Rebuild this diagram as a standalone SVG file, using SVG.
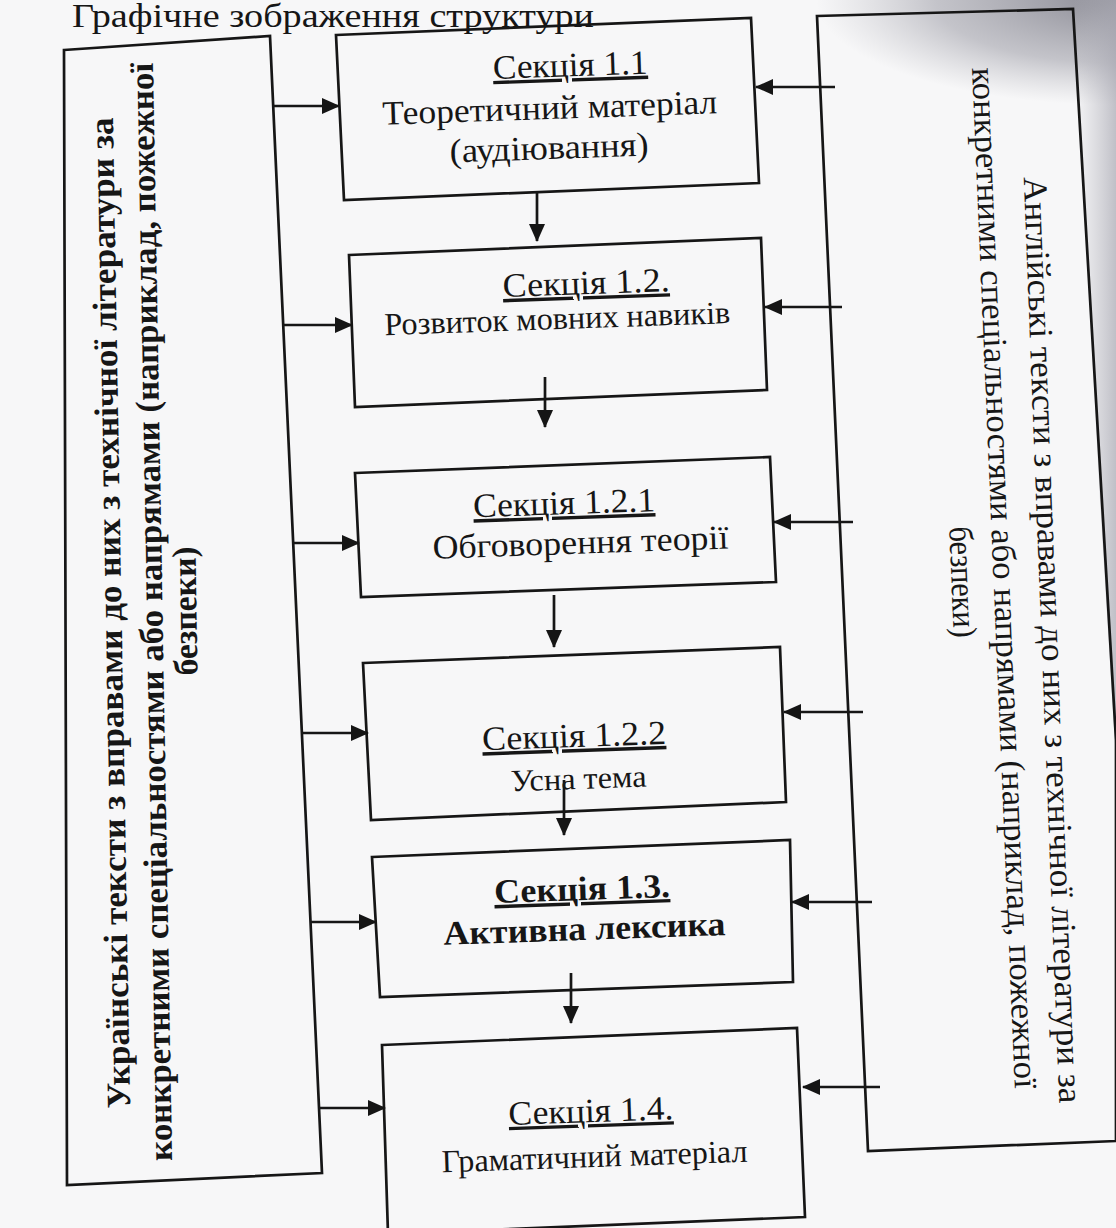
<svg xmlns="http://www.w3.org/2000/svg" width="1116" height="1228" viewBox="0 0 1116 1228">
<defs>
  <marker id="ah" markerUnits="userSpaceOnUse" markerWidth="18" markerHeight="16" refX="17" refY="8" orient="auto">
    <path d="M0,0 L18,8 L0,16 z" fill="#151515"/>
  </marker>
  <radialGradient id="cornerShade" cx="1116" cy="0" r="300" gradientUnits="userSpaceOnUse" gradientTransform="translate(1116 0) scale(1 0.35) translate(-1116 0)">
    <stop offset="0" stop-color="#85858f" stop-opacity="0.95"/>
    <stop offset="0.6" stop-color="#9a9aa4" stop-opacity="0.55"/>
    <stop offset="1" stop-color="#b0b0b8" stop-opacity="0"/>
  </radialGradient>
  <linearGradient id="rightShade" x1="0" y1="0" x2="1" y2="0">
    <stop offset="0" stop-color="#b8b8c0" stop-opacity="0"/>
    <stop offset="1" stop-color="#a8a8b2" stop-opacity="0.7"/>
  </linearGradient>
</defs>
<style>
  .box{fill:none;stroke:#161616;stroke-width:2.7;stroke-linejoin:miter}
  .con{fill:none;stroke:#161616;stroke-width:2.7;marker-end:url(#ah)}
  .t{font-family:"Liberation Serif","Times New Roman",serif;fill:#161616;text-anchor:middle}
  .b{font-weight:bold}
  .u{text-decoration:underline}
  .side{font-size:34px;dominant-baseline:central}
  .bx{font-size:34px}
</style>

<rect x="0" y="0" width="1116" height="1228" fill="#f7f7f8"/>
<rect x="780" y="0" width="336" height="120" fill="url(#cornerShade)"/>
<polygon points="1073,0 1116,0 1116,760 1100,500" fill="url(#rightShade)"/>

<g id="title">
  <text class="t" x="333" y="27" font-size="33" textLength="522" lengthAdjust="spacingAndGlyphs">Графічне зображення структури</text>
</g>

<g id="panel-left">
  <polygon class="box" points="64,50 270,36 322,1173 67,1185"/>
  <g class="t b side">
    <text transform="translate(110,613) rotate(-91)" textLength="991" lengthAdjust="spacingAndGlyphs">Українські  текcти з вправами до них з технічної літератури за</text>
    <text transform="translate(151,612) rotate(-91)" textLength="1098" lengthAdjust="spacingAndGlyphs">конкретними спеціальностями або напрямами (наприклад, пожежної</text>
    <text transform="translate(185,611) rotate(-91)" textLength="129" lengthAdjust="spacingAndGlyphs">безпеки)</text>
  </g>
</g>

<g id="panel-right">
  <polygon class="box" points="817,16 1073,9 1116,740 1116,1141 868,1151"/>
  <g class="t side">
    <text transform="translate(1053,640) rotate(87.8)" textLength="927" lengthAdjust="spacingAndGlyphs">Англійські  текcти з вправами до них з технічної літератури за</text>
    <text transform="translate(1005,578) rotate(87.6)" textLength="1022" lengthAdjust="spacingAndGlyphs">конкретними спеціальностями або напрямами (наприклад, пожежної</text>
    <text transform="translate(963,582) rotate(87.6)" textLength="111" lengthAdjust="spacingAndGlyphs">безпеки)</text>
  </g>
</g>

<g id="s1-1">
  <polygon class="box" points="336,35 751,18 759,183 344,200"/>
  <g class="t bx" transform="rotate(-2 550 117)">
    <text class="u" x="572" y="77" textLength="155" lengthAdjust="spacingAndGlyphs">Секція 1.1</text>
    <text x="550" y="119" textLength="335" lengthAdjust="spacingAndGlyphs">Теоретичний матеріал</text>
    <text x="548" y="159" textLength="199" lengthAdjust="spacingAndGlyphs">(аудіювання)</text>
  </g>
</g>

<g id="s1-2">
  <polygon class="box" points="349,255 761,238 767,390 355,407"/>
  <g class="t bx" transform="rotate(-2 560 310)">
    <text class="u" x="587" y="295" textLength="167" lengthAdjust="spacingAndGlyphs">Секція 1.2.</text>
    <text x="557" y="329" font-size="32" textLength="346" lengthAdjust="spacingAndGlyphs">Розвиток мовних навиків</text>
  </g>
</g>

<g id="s1-2-1">
  <polygon class="box" points="355,473 770,457 776,582 361,597"/>
  <g class="t bx" transform="rotate(-2 570 530)">
    <text class="u" x="565" y="514" textLength="182" lengthAdjust="spacingAndGlyphs">Секція 1.2.1</text>
    <text x="580" y="554" textLength="296" lengthAdjust="spacingAndGlyphs">Обговорення теорії</text>
  </g>
</g>

<g id="s1-2-2">
  <polygon class="box" points="363,663 780,647 786,802 371,820"/>
  <g class="t bx" transform="rotate(-2 576 765)">
    <text class="u" x="575" y="747" textLength="184" lengthAdjust="spacingAndGlyphs">Секція 1.2.2</text>
    <text x="578" y="789" font-size="31" textLength="136" lengthAdjust="spacingAndGlyphs">Усна тема</text>
  </g>
</g>

<g id="s1-3">
  <polygon class="box" points="372,857 790,840 793,982 380,997"/>
  <g class="t bx b" transform="rotate(-2 583 918)">
    <text class="u" x="583" y="900" textLength="176" lengthAdjust="spacingAndGlyphs">Секція 1.3.</text>
    <text x="584" y="940" textLength="282" lengthAdjust="spacingAndGlyphs">Активна лексика</text>
  </g>
</g>

<g id="s1-4">
  <polygon class="box" points="382,1045 797,1028 805,1217 388,1234"/>
  <g class="t bx" transform="rotate(-2 593 1142)">
    <text class="u" x="592" y="1122" textLength="165" lengthAdjust="spacingAndGlyphs">Секція 1.4.</text>
    <text x="594" y="1167" font-size="32" textLength="306" lengthAdjust="spacingAndGlyphs">Граматичний матеріал</text>
  </g>
</g>

<g id="connectors">
  <line class="con" x1="272" y1="106" x2="339" y2="106"/>
  <line class="con" x1="284" y1="325" x2="352" y2="325"/>
  <line class="con" x1="293" y1="543" x2="359" y2="543"/>
  <line class="con" x1="302" y1="733" x2="368" y2="733"/>
  <line class="con" x1="311" y1="922" x2="376" y2="922"/>
  <line class="con" x1="320" y1="1108" x2="385" y2="1108"/>

  <line class="con" x1="835" y1="87" x2="756" y2="87"/>
  <line class="con" x1="842" y1="307" x2="765" y2="307"/>
  <line class="con" x1="853" y1="522" x2="774" y2="522"/>
  <line class="con" x1="863" y1="712" x2="784" y2="712"/>
  <line class="con" x1="872" y1="902" x2="792" y2="902"/>
  <line class="con" x1="880" y1="1087" x2="803" y2="1087"/>

  <line class="con" x1="537" y1="193" x2="537" y2="241"/>
  <line class="con" x1="545" y1="377" x2="545" y2="427"/>
  <line class="con" x1="554" y1="595" x2="554" y2="647"/>
  <line class="con" x1="564" y1="780" x2="564" y2="835"/>
  <line class="con" x1="571" y1="973" x2="571" y2="1023"/>
</g>
</svg>
